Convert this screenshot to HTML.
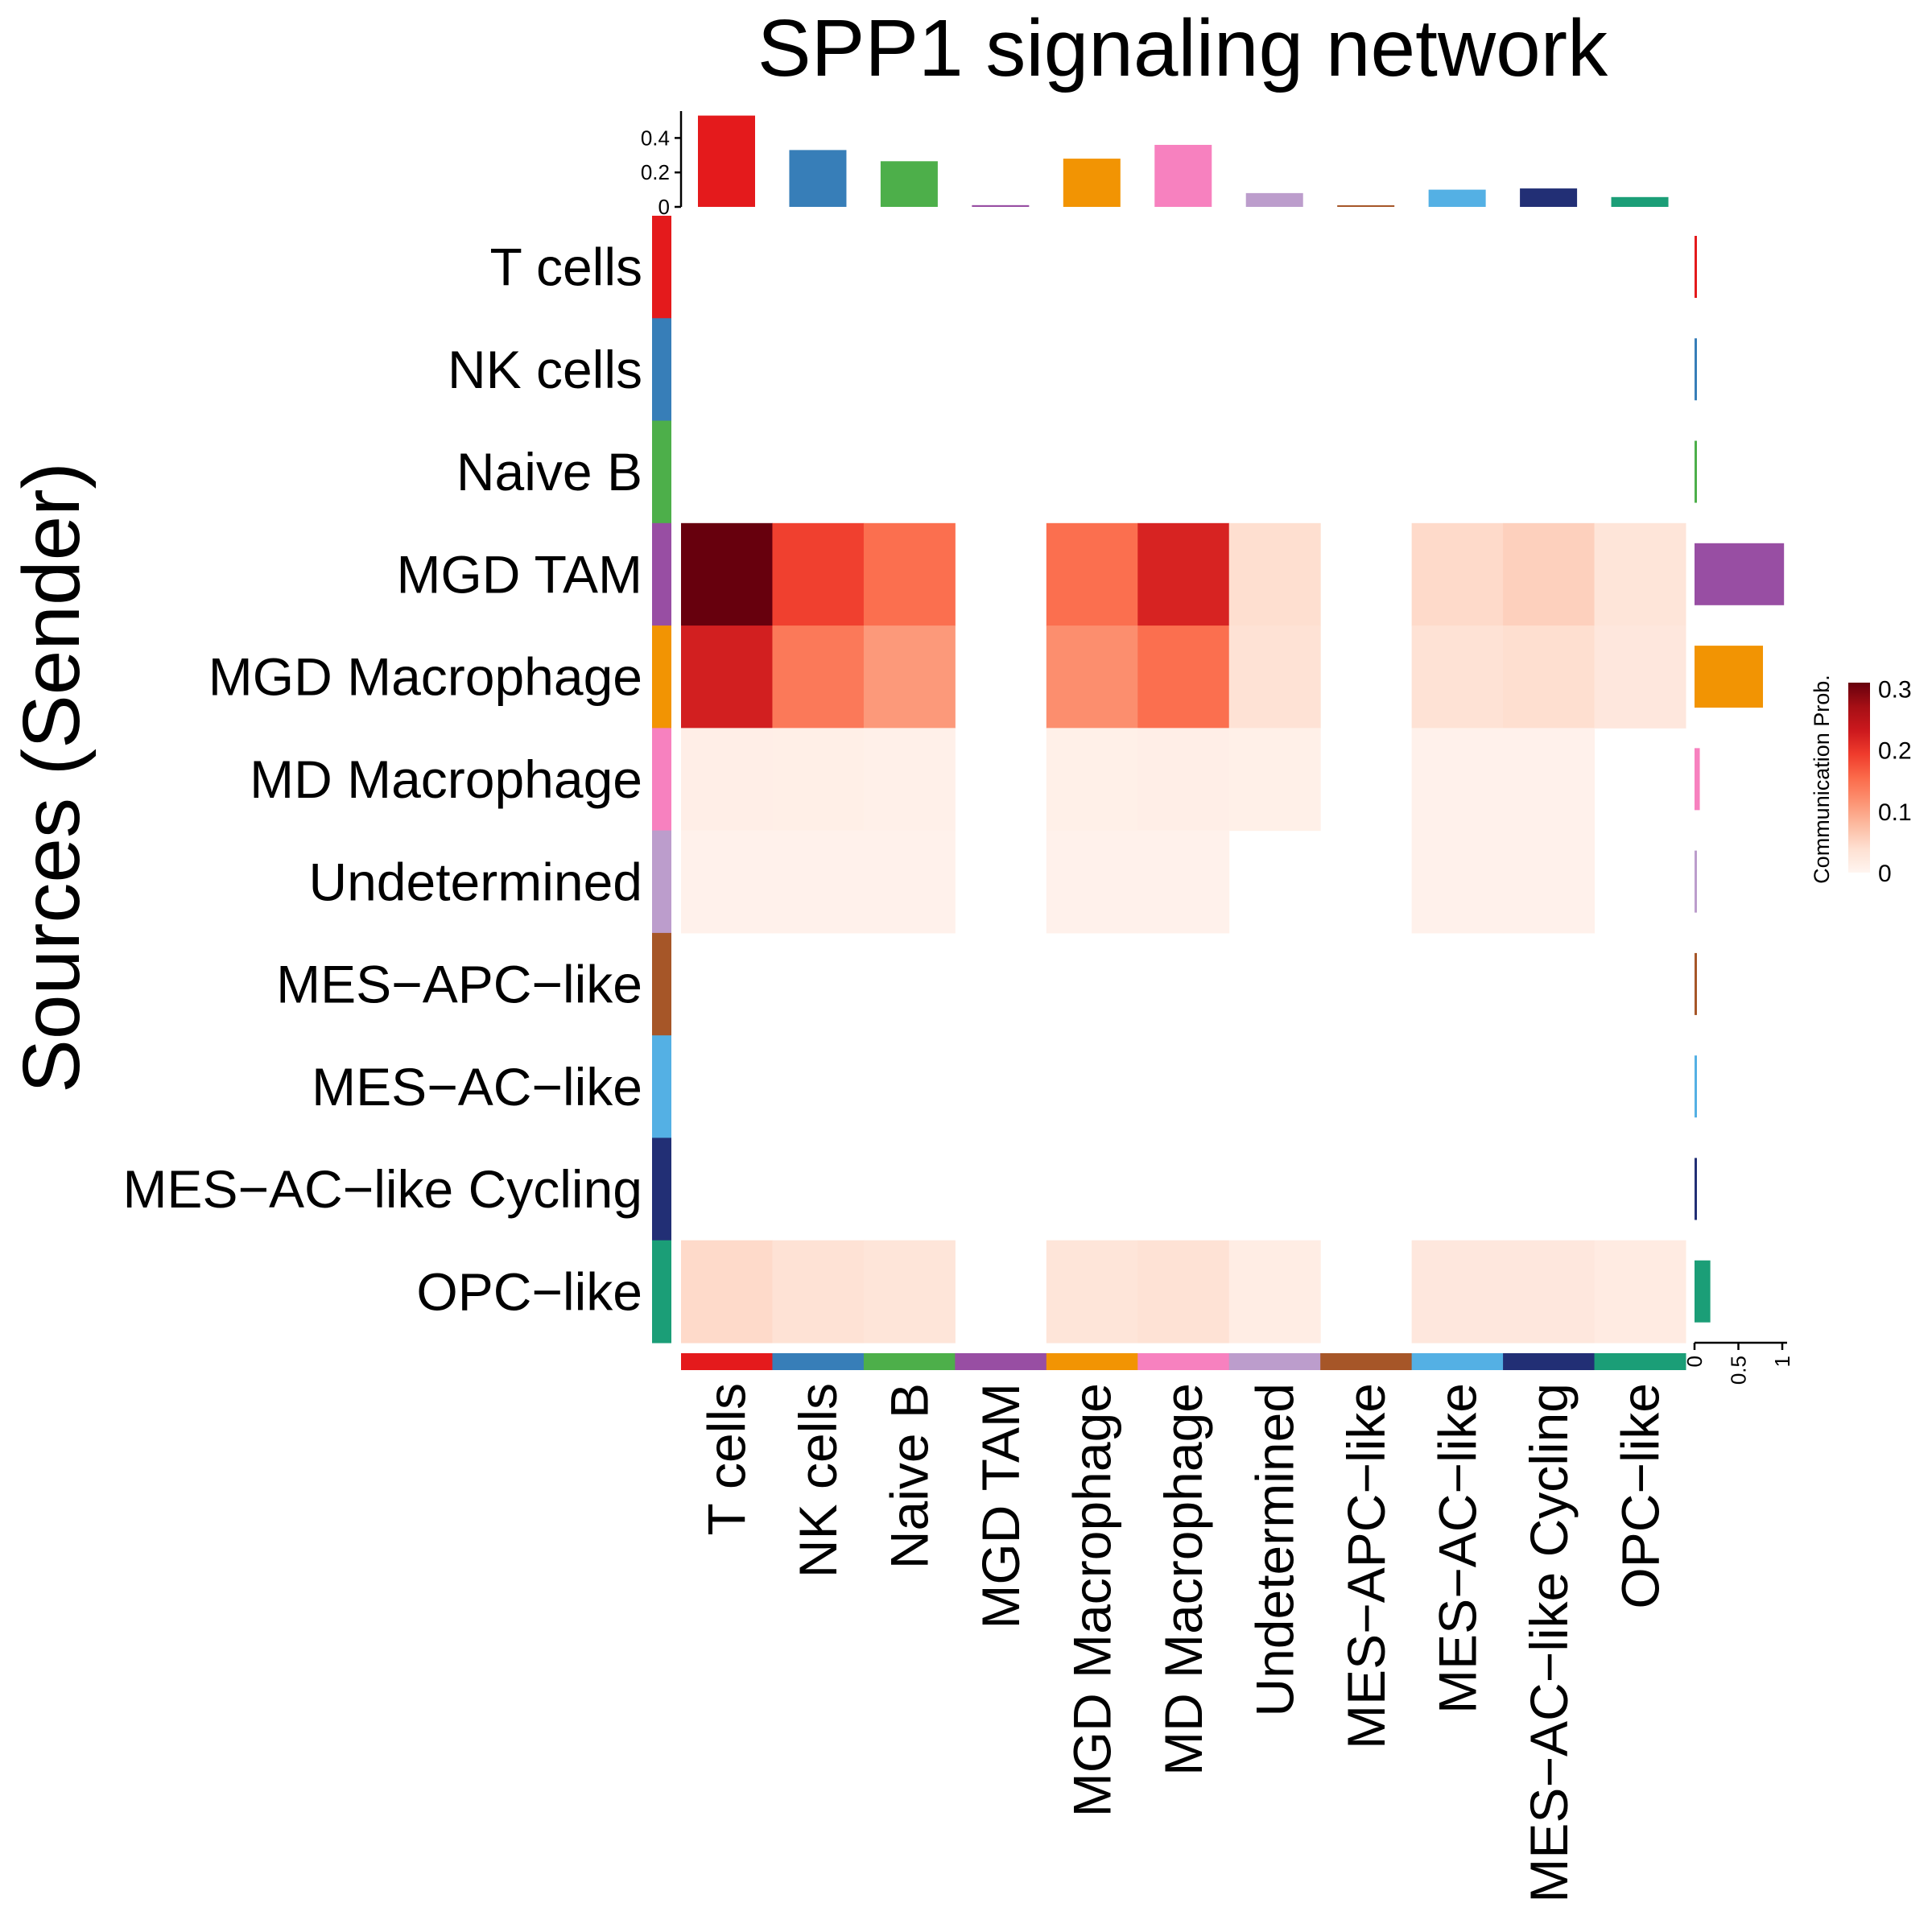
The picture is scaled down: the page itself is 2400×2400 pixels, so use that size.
<!DOCTYPE html>
<html><head><meta charset="utf-8"><style>
html,body{margin:0;padding:0;background:#fff;}
svg{display:block;font-family:"Liberation Sans",sans-serif;}
</style></head><body>
<svg id="chart" width="2400" height="2400" viewBox="0 0 2400 2400" xmlns="http://www.w3.org/2000/svg">
<text x="1469" y="94" font-size="100" text-anchor="middle">SPP1 signaling network</text>
<text transform="translate(98,966) rotate(-90)" font-size="100" text-anchor="middle">Sources (Sender)</text>
<g id="g"></g>
</svg>
<script>
const cellTypes = ["T cells","NK cells","Naive B","MGD TAM","MGD Macrophage","MD Macrophage","Undetermined","MES\u2212APC\u2212like","MES\u2212AC\u2212like","MES\u2212AC\u2212like Cycling","OPC\u2212like"];
const cellColors = ["#E41A1C","#377EB8","#4DAF4A","#984EA3","#F29403","#F781BF","#BC9DCC","#A65628","#54B0E4","#222F75","#1B9E77"];
const incoming = [0.53,0.33,0.265,0.01,0.28,0.36,0.08,0.005,0.10,0.107,0.057];
const outgoing = [0.01,0.01,0.01,1.02,0.78,0.06,0.02,0.02,0.02,0.02,0.18];
const topTicks = [0,0.2,0.4];
const rightTicks = [0,0.5,1];
const legendTicks = [0,0.1,0.2,0.3];
const probMatrix = [
[0,0,0,0,0,0,0,0,0,0,0],
[0,0,0,0,0,0,0,0,0,0,0],
[0,0,0,0,0,0,0,0,0,0,0],
[0.31,0.19,0.15,0,0.15,0.22,0.04,0,0.045,0.055,0.03],
[0.225,0.14,0.11,0,0.12,0.15,0.035,0,0.035,0.04,0.025],
[0.012,0.011,0.009,0,0.01,0.012,0.01,0,0.007,0.007,0],
[0.007,0.007,0.007,0,0.007,0.007,0,0,0.007,0.007,0],
[0,0,0,0,0,0,0,0,0,0,0],
[0,0,0,0,0,0,0,0,0,0,0],
[0,0,0,0,0,0,0,0,0,0,0],
[0.045,0.035,0.03,0,0.03,0.035,0.015,0,0.025,0.025,0.018]
];
const maxProb = 0.31;

const NS="http://www.w3.org/2000/svg";
const g=document.getElementById('g');
function mk(tag,attrs,parent){const e=document.createElementNS(NS,tag);for(const k in attrs)e.setAttribute(k,attrs[k]);(parent||g).appendChild(e);return e;}
const X0=846,X1=2094,Y0=268,Y1=1668;
const n=cellTypes.length, cw=(X1-X0)/n, rh=(Y1-Y0)/n;
const xCol=i=>X0+i*cw, yRow=i=>Y0+i*rh;
const reds=["#fff5f0","#fee0d2","#fcbba1","#fc9272","#fb6a4a","#ef3b2c","#cb181d","#a50f15","#67000d"];
function hex(h){return [1,3,5].map(i=>parseInt(h.substr(i,2),16));}
function colorFor(v){let t=Math.max(0,Math.min(1,v/maxProb))*(reds.length-1);let i=Math.min(Math.floor(t),reds.length-2);let f=t-i;const a=hex(reds[i]),b=hex(reds[i+1]);return `rgb(${a.map((c,k)=>Math.round(c+(b[k]-c)*f)).join(',')})`;}

for(let r=0;r<n;r++)for(let c=0;c<n;c++){const v=probMatrix[r][c];if(v<=0)continue;
const e=mk('rect',{x:xCol(c),y:yRow(r),width:cw+0.5,height:rh+0.5,fill:colorFor(v)});

}
for(let i=0;i<n;i++){
const e=mk('rect',{x:810,y:yRow(i),width:24,height:rh+0.5,fill:cellColors[i]});


const t=mk('text',{x:798,y:yRow(i)+rh/2+23,'font-size':66,'text-anchor':'end'});t.textContent=cellTypes[i];


const b=mk('rect',{x:xCol(i),y:1681,width:cw+0.5,height:21,fill:cellColors[i]});


const ct=mk('text',{transform:`translate(${xCol(i)+cw/2+23},1718) rotate(-90)`,'font-size':66,'text-anchor':'end'});ct.textContent=cellTypes[i];


}
const yTop=v=>257-v*214;
mk('line',{x1:846,x2:846,y1:138,y2:257,stroke:'#000','stroke-width':2.5});
for(const t of topTicks){mk('line',{x1:838,x2:846,y1:yTop(t),y2:yTop(t),stroke:'#000','stroke-width':2.5});
const tt=mk('text',{x:832,y:yTop(t)+9,'font-size':26,'text-anchor':'end'});tt.textContent=String(t);

}
for(let i=0;i<n;i++){const h=Math.max(2,257-yTop(incoming[i]));
const e=mk('rect',{x:xCol(i)+21,y:257-h,width:71,height:h,fill:cellColors[i]});

}
const xR=v=>2105+v*109;
mk('line',{x1:2105,x2:2220,y1:1668,y2:1668,stroke:'#000','stroke-width':2.5});
for(const t of rightTicks){mk('line',{x1:xR(t),x2:xR(t),y1:1668,y2:1677,stroke:'#000','stroke-width':2.5});
const tt=mk('text',{transform:`translate(${xR(t)+9},1684) rotate(-90)`,'font-size':26,'text-anchor':'end'});tt.textContent=String(t);

}
for(let i=0;i<n;i++){const w=Math.max(3,xR(outgoing[i])-2105);
const e=mk('rect',{x:2105,y:yRow(i)+25,width:w,height:77,fill:cellColors[i]});

}
const defs=mk('defs',{});const lg=mk('linearGradient',{id:'lg',x1:0,y1:1,x2:0,y2:0},defs);
reds.forEach((c,i)=>mk('stop',{offset:i/(reds.length-1),'stop-color':c},lg));
const LY0=1084,LY1=848;const yL=v=>LY0-(v/maxProb)*(LY0-LY1);
const lr=mk('rect',{x:2296,y:LY1,width:27,height:LY0-LY1,fill:'url(#lg)'});


for(const t of legendTicks){const tt=mk('text',{x:2333,y:yL(t)+11,'font-size':30});tt.textContent=String(t);

}
const lt=mk('text',{transform:'translate(2272,968) rotate(-90)','font-size':27,'text-anchor':'middle'});lt.textContent='Communication Prob.';


</script>
</body></html>
